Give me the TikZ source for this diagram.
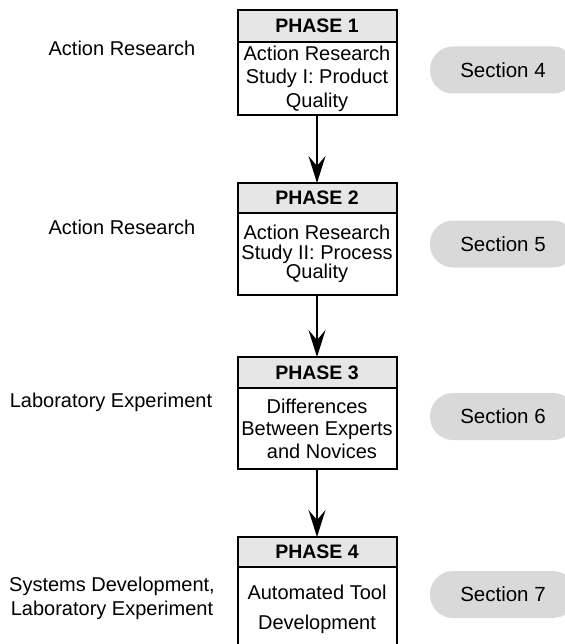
\documentclass[tikz,border=0pt]{standalone}
\usepackage{fontspec}
\setmainfont{Liberation Sans}
\usetikzlibrary{arrows.meta}
\definecolor{headgray}{HTML}{E6E6E6}
\definecolor{pillgray}{HTML}{D9D9D9}

\begin{document}
\begin{tikzpicture}[x=1pt,y=-1pt,
  every node/.style={inner sep=0pt, outer sep=0pt},
  head/.style={draw, line width=2pt, fill=headgray, minimum width=159pt,
    minimum height=#1, anchor=north, font=\fontsize{19.5}{21}\selectfont\bfseries},
  body/.style={draw, line width=2pt, fill=white, minimum width=159pt,
    minimum height=#1, anchor=north, align=center},
  pill/.style={fill=pillgray, rounded corners=23pt, minimum width=146pt,
    minimum height=47pt, anchor=west, text depth=0pt,
    font=\fontsize{20.5}{24}\selectfont},
  lab/.style={align=center, font=\fontsize{20}{24}\selectfont},
  flow/.style={line width=2pt, -{Stealth[length=27pt,width=17pt,inset=10pt]}}]

\useasboundingbox (0,0) rectangle (564,644);

% phase blocks: grey title bar above a white description box
\node[head=32pt] (h1) at (317,10) {PHASE 1};
\node[body=73pt, font=\fontsize{20}{23.5}\selectfont] (b1) at (317,42)
  {Action Research\\Study I: Product\\Quality};

\node[head=30pt] (h2) at (317,183) {PHASE 2};
\node[body=82pt, font=\fontsize{20}{19.5}\selectfont] (b2) at (317,213)
  {Action Research\\Study II: Process\\Quality};

\node[head=31pt] (h3) at (317,357) {PHASE 3};
\node[body=81pt, font=\fontsize{20}{22.5}\selectfont] (b3) at (317,388)
  {Differences\\Between Experts\\\hspace*{10pt}and Novices};

\node[head=30pt] (h4) at (317,537) {PHASE 4};
\node[body=95pt, font=\fontsize{20}{30}\selectfont] (b4) at (317,567)
  {\raisebox{0pt}[0pt][0pt]{}\\[-30pt]\vphantom{X}\\Automated Tool\\Development\\\vphantom{X}};

% flow between phases
\draw[flow] (b1.south) -- (h2.north);
\draw[flow] (b2.south) -- (h3.north);
\draw[flow] (b3.south) -- (h4.north);

% research methods on the left
\node[lab] (m1) at (122,48) {Action Research};
\node[lab] (m2) at (122,227) {Action Research};
\node[lab] (m3) at (111,402) {Laboratory Experiment};
\node[lab] (m4) at (112,598) {Systems Development,\\Laboratory Experiment};

% section references on the right
\node[pill] (s4) at (430,70) {Section 4};
\node[pill] (s5) at (430,244) {Section 5};
\node[pill] (s6) at (430,416.5) {Section 6};
\node[pill] (s7) at (430,594.5) {Section 7};
\end{tikzpicture}
\end{document}
